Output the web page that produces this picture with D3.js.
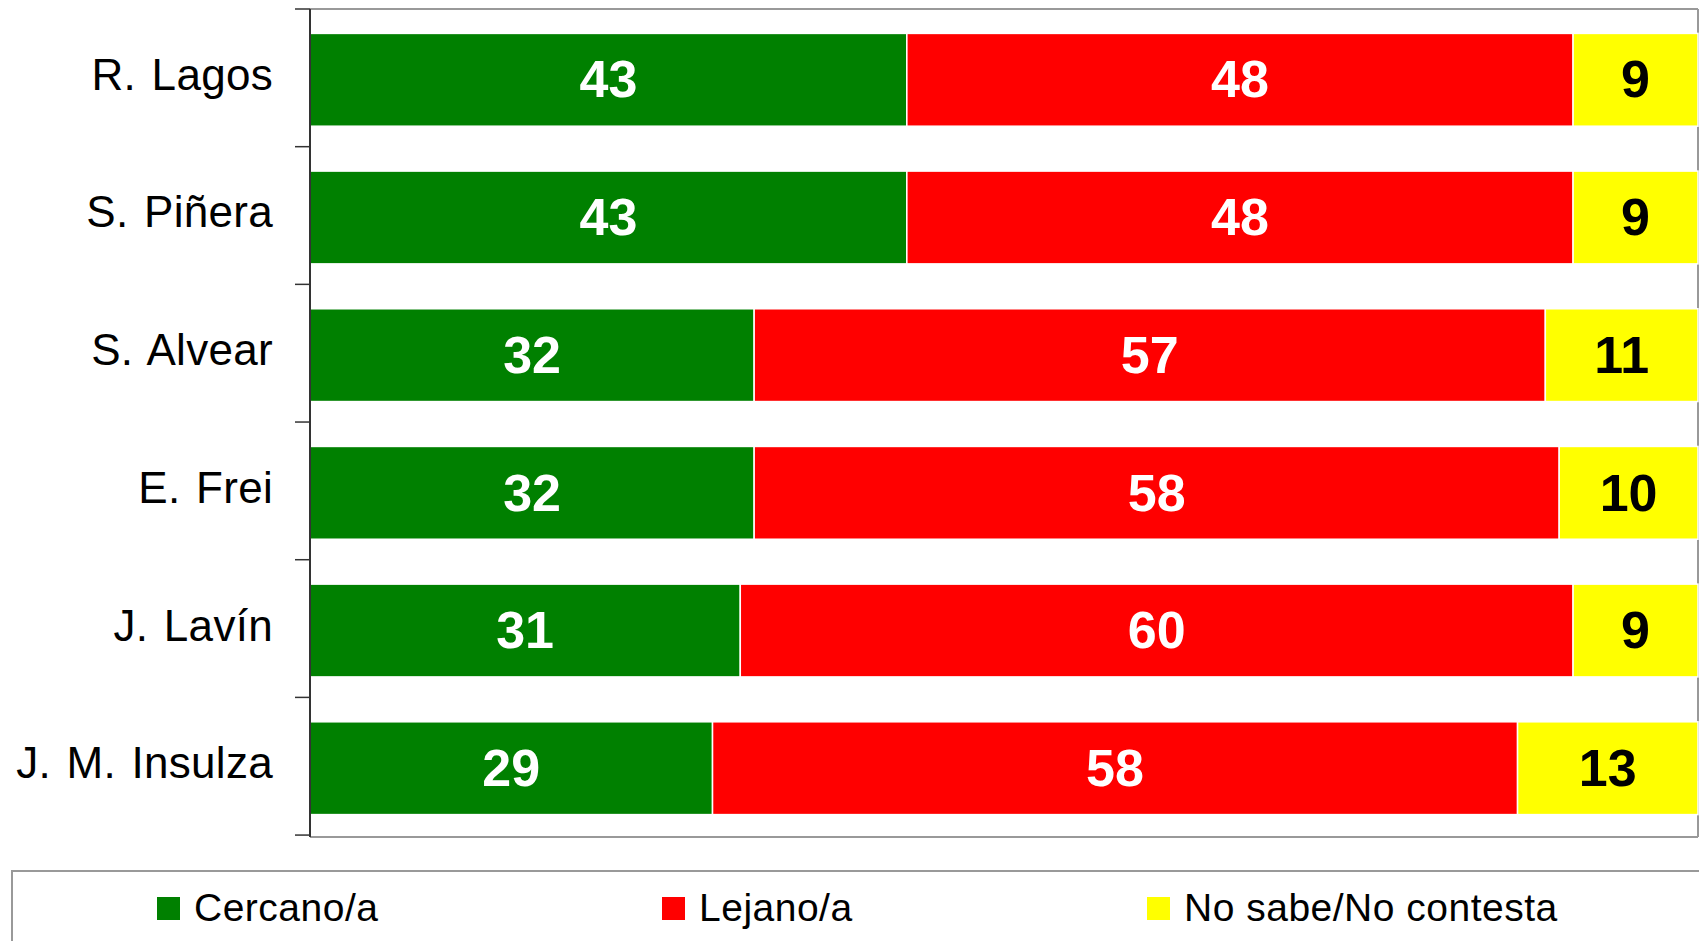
<!DOCTYPE html>
<html><head><meta charset="utf-8">
<script src="https://cdn.jsdelivr.net/npm/d3@7"></script>
<style>html,body{margin:0;padding:0;background:#fff;overflow:hidden}</style>
</head><body>
<svg id="c" width="1699" height="941"></svg>
<script>
const categories = ["R. Lagos","S. Piñera","S. Alvear","E. Frei","J. Lavín","J. M. Insulza"];
const cercano = [43,43,32,32,31,29];
const lejano  = [48,48,57,58,60,58];
const nosabe  = [9,9,11,10,9,13];
const seriesNames = ["Cercano/a","Lejano/a","No sabe/No contesta"];
const seriesColors = ["#008000","#FF0000","#FFFF00"];
const labelColors = ["#FFFFFF","#FFFFFF","#000000"];

const svg = d3.select("#c");
const L = 310, R = 1698, T = 9, B = 837;
const x = d3.scaleLinear().domain([0,100]).range([L,R]);
const y = d3.scaleBand().domain(categories).range([T,B]).paddingInner(0.326).paddingOuter(0.17);

const rows = categories.map((c,i)=>({cat:c, vals:[cercano[i],lejano[i],nosabe[i]]}));
const segs = [];
rows.forEach(r=>{let acc=0; r.vals.forEach((v,k)=>{segs.push({cat:r.cat,k,v,x0:acc,x1:acc+v}); acc+=v;});});

// plot frame (gray)
svg.append("line").attr("x1",L).attr("x2",R).attr("y1",T).attr("y2",T).attr("stroke","#999").attr("stroke-width",2);
svg.append("line").attr("x1",R).attr("x2",R).attr("y1",T).attr("y2",B).attr("stroke","#999").attr("stroke-width",2);
svg.append("line").attr("x1",L).attr("x2",R).attr("y1",B).attr("y2",B).attr("stroke","#999").attr("stroke-width",2);

// bars
svg.append("g").selectAll("rect").data(segs).join("rect")
  .attr("x",d=>x(d.x0)).attr("width",d=>x(d.x1)-x(d.x0))
  .attr("y",d=>y(d.cat)+1).attr("height",y.bandwidth())
  .attr("fill",d=>seriesColors[d.k]).attr("stroke","#fff").attr("stroke-width",1.5);

// value labels
svg.append("g").selectAll("text").data(segs).join("text")
  .attr("x",d=>x((d.x0+d.x1)/2)).attr("y",d=>y(d.cat)+1+y.bandwidth()/2)
  .attr("dy","0.34em").attr("text-anchor","middle")
  .attr("font-family","'Liberation Sans', Arial, sans-serif").attr("font-weight","bold")
  .attr("font-size",52).attr("fill",d=>labelColors[d.k]).text(d=>d.v);

// left axis
const step = y.step();
const tickYs = d3.range(categories.length+1).map(i=>T+i*step);
const ax = svg.append("g");
ax.append("line").attr("x1",L).attr("x2",L).attr("y1",T).attr("y2",B).attr("stroke","#333").attr("stroke-width",2);
ax.selectAll("line.t").data(tickYs).join("line").attr("class","t")
  .attr("x1",L-15).attr("x2",L).attr("y1",d=>d).attr("y2",d=>d).attr("stroke","#333").attr("stroke-width",1.5);
ax.selectAll("text").data(categories).join("text")
  .attr("x",273).attr("y",d=>y(d)+y.bandwidth()/2+11)
  .attr("text-anchor","end").attr("font-family","'Liberation Sans', Arial, sans-serif")
  .attr("font-size",44).attr("word-spacing",3).attr("letter-spacing",0.3).attr("fill","#000").text(d=>d);

// legend
svg.append("rect").attr("x",12).attr("y",871).attr("width",1700).attr("height",100)
  .attr("fill","none").attr("stroke","#999").attr("stroke-width",2);
const legX = [157,662,1147];
const lg = svg.append("g").selectAll("g").data(seriesNames).join("g")
  .attr("transform",(d,i)=>`translate(${legX[i]},897)`);
lg.append("rect").attr("width",23).attr("height",23).attr("fill",(d,i)=>seriesColors[i]);
lg.append("text").attr("x",37).attr("y",24).attr("font-family","'Liberation Sans', Arial, sans-serif")
  .attr("font-size",39).attr("letter-spacing",0.5).attr("fill","#000").text(d=>d);
</script>
</body></html>
